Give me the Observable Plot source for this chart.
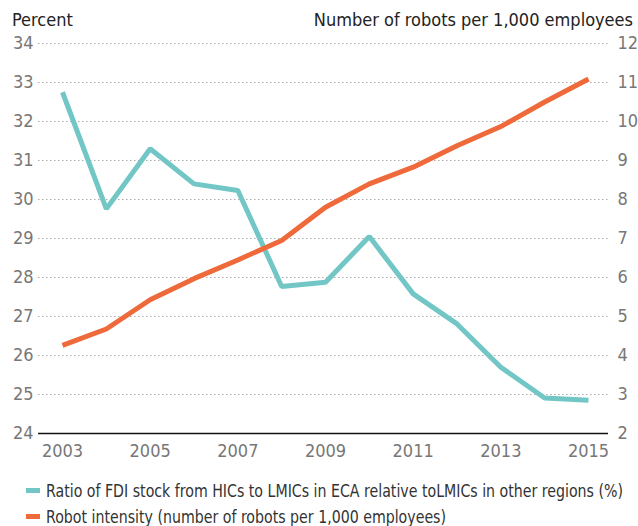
<!DOCTYPE html>
<html>
<head>
<meta charset="utf-8">
<script src="https://cdn.jsdelivr.net/npm/d3@7"></script>
<script src="https://cdn.jsdelivr.net/npm/@observablehq/plot@0.6"></script>
<style>
  html, body { margin: 0; padding: 0; background: #fff; }
  #chart { width: 638px; font-family: "Liberation Sans Narrow", "DejaVu Sans Condensed", "Roboto Condensed", sans-serif; }
  .hdr { position: relative; height: 30px; color: #222; font-size: 18px; }
  .hdr span { position: absolute; top: 10px; line-height: 20px; white-space: nowrap; }
  .legend { color: #333; font-size: 18px; padding-left: 26px; margin-top: 9px; }
  .legend .row { display: flex; align-items: center; height: 26px; white-space: nowrap; }
  .legend .sw { width: 14px; height: 5px; margin-right: 6px; flex: none; }
  .legend .tx { display: inline-block; transform-origin: left center; }
</style>
</head>
<body>
<div id="chart"></div>
<script>
const years = [2003, 2004, 2005, 2006, 2007, 2008, 2009, 2010, 2011, 2012, 2013, 2014, 2015];
const fdiRatio = [32.75, 29.76, 31.30, 30.40, 30.23, 27.77, 27.88, 29.05, 27.58, 26.81, 25.70, 24.91, 24.85];
const robotIntensity = [4.26, 4.68, 5.43, 5.97, 6.45, 6.95, 7.80, 8.40, 8.83, 9.38, 9.87, 10.50, 11.09];
const leftTicks = [24, 25, 26, 27, 28, 29, 30, 31, 32, 33, 34];
const rightTicks = [2, 3, 4, 5, 6, 7, 8, 9, 10, 11, 12];
const xTicks = [2003, 2005, 2007, 2009, 2011, 2013, 2015];
const seriesNames = [
  "Ratio of FDI stock from HICs to LMICs in ECA relative toLMICs in other regions (%)",
  "Robot intensity (number of robots per 1,000 employees)"
];
const seriesColors = ["#72C6C6", "#EE6A3A"];
const leftTitle = "Percent";
const rightTitle = "Number of robots per 1,000 employees";

const leftDomain = [leftTicks[0], leftTicks[leftTicks.length - 1]];
const rightDomain = [rightTicks[0], rightTicks[rightTicks.length - 1]];
const toLeft = d3.scaleLinear().domain(rightDomain).range(leftDomain);
const toRight = toLeft.invert;

const fdiData = years.map((y, i) => ({year: y, value: fdiRatio[i]}));
const robotData = years.map((y, i) => ({year: y, value: toLeft(robotIntensity[i])}));

const root = document.getElementById("chart");

const hdr = document.createElement("div");
hdr.className = "hdr";
const lt = document.createElement("span");
lt.textContent = leftTitle; lt.style.left = "12px";
const rt = document.createElement("span");
rt.textContent = rightTitle; rt.style.right = "5px";
hdr.append(lt, rt);
root.append(hdr);

const fontFamily = "'Liberation Sans Narrow', 'DejaVu Sans Condensed', 'Roboto Condensed', sans-serif";

const plot = Plot.plot({
  width: 638,
  height: 438,
  marginTop: 13,
  marginLeft: 38,
  marginRight: 30,
  marginBottom: 35,
  style: {fontFamily, fontSize: "18px", color: "#777", background: "#fff", overflow: "visible"},
  x: {domain: [years[0], years[years.length - 1]], insetLeft: 24, insetRight: 20},
  y: {domain: leftDomain},
  marks: [
    Plot.ruleY(leftTicks.slice(1), {stroke: "#aaa", strokeWidth: 1, strokeDasharray: "1.5,2.5"}),
    Plot.axisY({ticks: leftTicks, tickSize: 0, tickPadding: 5, tickFormat: d => d, fill: "#777", label: null}),
    Plot.axisY({anchor: "right", ticks: rightTicks.map(toLeft), tickSize: 0, tickPadding: 9, tickFormat: d => Math.round(toRight(d)), fill: "#777", label: null}),
    Plot.axisX({ticks: xTicks, tickSize: 0, tickPadding: 11, tickFormat: d => String(d), fill: "#777", label: null}),
    Plot.ruleY([leftDomain[0]], {stroke: "#111", strokeWidth: 1.5}),
    Plot.line(fdiData, {x: "year", y: "value", stroke: seriesColors[0], strokeWidth: 5, strokeLinecap: "butt", strokeLinejoin: "miter"}),
    Plot.line(robotData, {x: "year", y: "value", stroke: seriesColors[1], strokeWidth: 5, strokeLinecap: "butt", strokeLinejoin: "miter"})
  ]
});
root.append(plot);

const legend = document.createElement("div");
legend.className = "legend";
const texts = [];
seriesNames.forEach((name, i) => {
  const row = document.createElement("div");
  row.className = "row";
  const sw = document.createElement("span");
  sw.className = "sw";
  sw.style.background = seriesColors[i];
  const tx = document.createElement("span");
  tx.className = "tx";
  tx.textContent = name;
  row.append(sw, tx);
  legend.append(row);
  texts.push(tx);
});
root.append(legend);

// fit the longest legend entry into the width it takes in the reference layout
const available = 577;
const w = texts[0].getBoundingClientRect().width;
const k = Math.min(1, available / w);
texts.forEach(t => { t.style.transform = `scaleX(${k})`; });
</script>
</body>
</html>
